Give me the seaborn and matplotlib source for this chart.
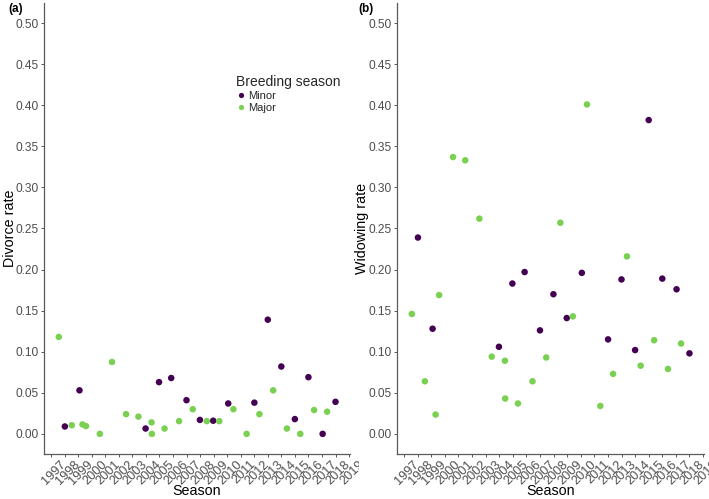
import numpy as np
import pandas as pd
import matplotlib
matplotlib.use("Agg")
import matplotlib.pyplot as plt
from matplotlib.transforms import Bbox, TransformedBbox, ScaledTranslation
import seaborn as sns

# ---------------- data ----------------
minor_season = [1998.02, 1999.10, 2003.98, 2004.97, 2005.87, 2007.00, 2007.99, 2008.97,
                2010.08, 2012.01, 2013.00, 2014.00, 2015.00, 2016.00, 2017.05, 2018.00]
minor_divorce = [0.009, 0.053, 0.0065, 0.063, 0.068, 0.041, 0.017, 0.016,
                 0.037, 0.038, 0.139, 0.082, 0.018, 0.069, 0.0, 0.039]
minor_widowing = [0.239, 0.128, 0.106, 0.183, 0.197, 0.126, 0.170, 0.141,
                  0.196, 0.115, 0.188, 0.102, 0.382, 0.189, 0.176, 0.098]

major_season = [1997.57, 1998.53, 1999.32, 1999.58, 2000.60, 2001.50, 2002.54, 2003.45,
                2004.42, 2004.44, 2005.38, 2006.45, 2007.46, 2008.50, 2009.42, 2010.46,
                2011.44, 2012.38, 2013.40, 2014.41, 2015.40, 2016.42, 2017.38]
major_divorce = [0.118, 0.0105, 0.0115, 0.0095, 0.0, 0.0875, 0.024, 0.021,
                 0.014, 0.0, 0.0065, 0.0155, 0.030, 0.0155, 0.0155, 0.030,
                 0.0, 0.024, 0.053, 0.0065, 0.0, 0.029, 0.027]
major_widowing = [0.146, 0.064, 0.0235, 0.169, 0.337, 0.333, 0.262, 0.094,
                  0.089, 0.043, 0.037, 0.064, 0.093, 0.257, 0.143, 0.401,
                  0.034, 0.073, 0.216, 0.083, 0.114, 0.079, 0.110]

year_ticks = list(range(1997, 2020))
year_labels = [str(y) for y in year_ticks]
y_ticks = [0.00, 0.05, 0.10, 0.15, 0.20, 0.25, 0.30, 0.35, 0.40, 0.45, 0.50]

season_types = ["Minor", "Major"]
palette = {"Minor": "#440154", "Major": "#7AD151"}

df = pd.DataFrame({
    "Season": minor_season + major_season,
    "Divorce rate": minor_divorce + major_divorce,
    "Widowing rate": minor_widowing + major_widowing,
    "Breeding season": ["Minor"] * len(minor_season) + ["Major"] * len(major_season),
})

# ---------------- figure ----------------
sns.set_theme(style="white")
plt.rcParams["font.family"] = ["Liberation Sans", "DejaVu Sans"]

W, H = 709, 499
fig = plt.figure(figsize=(W / 100, H / 100), dpi=100)

def px_axes(x0, y0, x1, y1):
    return fig.add_axes([x0 / W, 1 - y1 / H, (x1 - x0) / W, (y1 - y0) / H])

axA = px_axes(44, 3, 350, 454)
axB = px_axes(397, 3, 704, 454)

grey = "#4D4D4D"
panels = [(axA, "Divorce rate", 359, 44, 306, 10), (axB, "Widowing rate", 709, 397, 307, 362)]
for ax, col, clip_right, x0, wpx, ylab_x in panels:
    sns.scatterplot(data=df, x="Season", y=col, hue="Breeding season",
                    hue_order=season_types, palette=palette, s=22, linewidth=0,
                    ax=ax, legend=(ax is axA), zorder=3)
    ax.set_xlim(1996.48, 2019.07)
    ax.set_ylim(-0.0245, 0.5245)
    ax.set_xticks(year_ticks)
    ax.set_xticklabels(year_labels)
    ax.set_yticks(y_ticks)
    ax.set_yticklabels([f"{v:.2f}" for v in y_ticks])
    for s in ["top", "right"]:
        ax.spines[s].set_visible(False)
    for s in ["left", "bottom"]:
        ax.spines[s].set_color("#5A5A5A")
        ax.spines[s].set_linewidth(0.9)
    ax.tick_params(axis="both", which="major", length=2.5, width=0.7, color="#5A5A5A",
                   labelcolor=grey, pad=1.5, bottom=True, left=True)
    ax.tick_params(axis="y", labelsize=8.6)
    ax.tick_params(axis="x", labelsize=9.2)
    for lab in ax.get_xticklabels():
        lab.set_rotation(45)
        lab.set_ha("right")
        lab.set_va("top")
        lab.set_rotation_mode("anchor")
        lab.set_transform(lab.get_transform() + ScaledTranslation(9 / 100, 1 / 100, fig.dpi_scale_trans))
        lab.set_clip_on(True)
        lab.set_clip_box(TransformedBbox(Bbox([[0, 0], [clip_right / W, 1]]), fig.transFigure))
    ax.set_xlabel("Season", fontsize=10.3, color="black", va="center")
    ax.xaxis.set_label_coords(0.5, (454 - 491) / 451)
    ax.set_ylabel(col, fontsize=10.3, color="black", va="center")
    ax.yaxis.set_label_coords((ylab_x - x0) / wpx, 0.5)

# legend
handles, labels = axA.get_legend_handles_labels()
leg = axA.legend(handles, labels, title="Breeding season", loc="upper left",
                 bbox_to_anchor=(230 / W, 1 - 69 / H), bbox_transform=fig.transFigure,
                 frameon=False, fontsize=8, title_fontsize=10, handletextpad=0.15,
                 labelspacing=0.12, borderpad=0, handlelength=1.0, markerscale=0.8)
leg._legend_box.align = "left"
leg._legend_box.sep = 2

fig.text(8 / W, 1 - 9 / H, "(a)", fontsize=8.5, fontweight="bold", va="center", ha="left", color="black")
fig.text(358 / W, 1 - 9 / H, "(b)", fontsize=8.5, fontweight="bold", va="center", ha="left", color="black")

fig.savefig("out.png", dpi=100)
